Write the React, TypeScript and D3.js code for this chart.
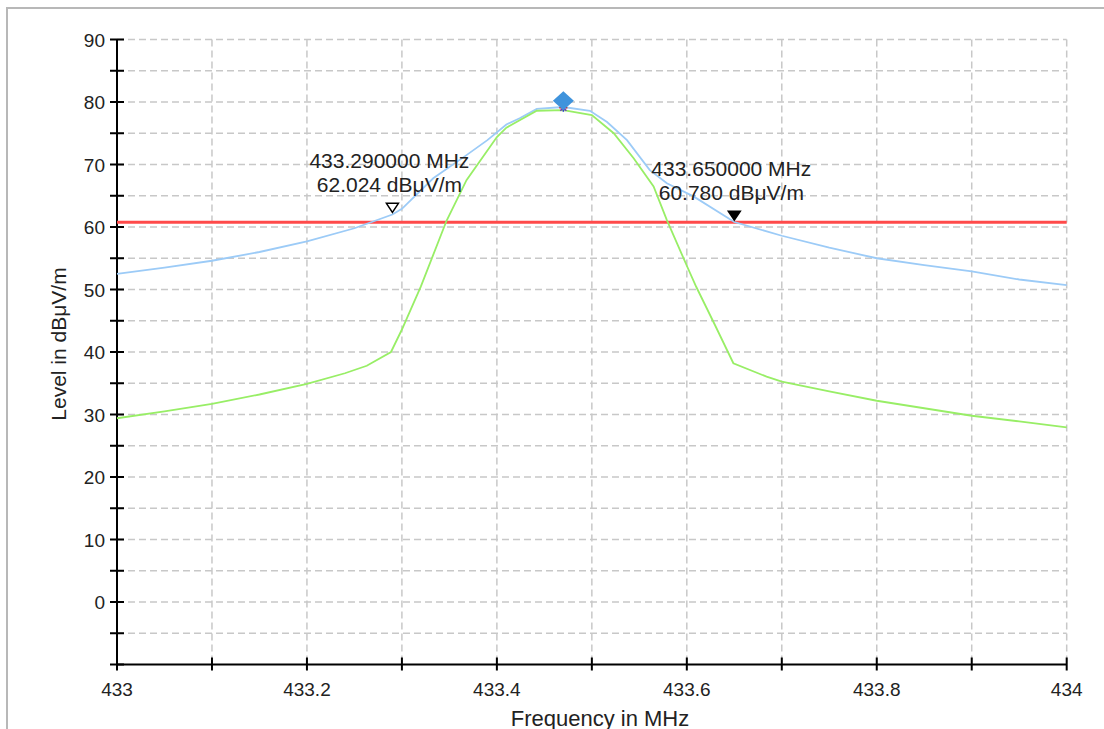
import React from "react";
import * as d3 from "d3";

// ---- data ----
const blueFreq = [433.0, 433.05, 433.1, 433.15, 433.2, 433.25, 433.29, 433.3, 433.333, 433.368, 433.39, 433.41, 433.424, 433.442, 433.47, 433.498, 433.516, 433.537, 433.561, 433.579, 433.607, 433.65, 433.7, 433.75, 433.8, 433.85, 433.9, 433.95, 434.0];
const blueLevel = [52.5, 53.5, 54.6, 56.0, 57.7, 59.8, 62.0, 62.9, 67.8, 71.5, 73.9, 76.4, 77.4, 78.9, 79.2, 78.6, 76.8, 73.9, 69.1, 67.0, 64.9, 60.8, 58.6, 56.7, 55.0, 53.9, 52.9, 51.6, 50.7];

const greenFreq = [433.0, 433.05, 433.1, 433.15, 433.2, 433.24, 433.263, 433.2885, 433.3, 433.32, 433.347, 433.368, 433.4, 433.41, 433.442, 433.47, 433.5, 433.523, 433.544, 433.565, 433.579, 433.6, 433.61, 433.63, 433.649, 433.684, 433.7, 433.75, 433.8, 433.85, 433.9, 433.95, 434.0];
const greenLevel = [29.4, 30.5, 31.7, 33.2, 34.9, 36.6, 37.8, 40.0, 43.6, 50.5, 61.0, 67.5, 74.4, 75.9, 78.6, 78.7, 77.9, 75.0, 71.0, 66.5, 61.1, 53.8, 50.4, 44.2, 38.2, 36.05, 35.25, 33.7, 32.2, 31.0, 29.8, 28.9, 27.95];

const limitLevel = 60.78;

const markerFreq = [433.29, 433.65];
const markerLevel = [62.024, 60.78];
const markerFilled = [false, true];

const peakFreq = 433.47;
const peakLevel = 80.2;

const xTicks = [433, 433.1, 433.2, 433.3, 433.4, 433.5, 433.6, 433.7, 433.8, 433.9, 434];
const xTickLabels = ["433", "", "433.2", "", "433.4", "", "433.6", "", "433.8", "", "434"];
const yTicks = [-10, -5, 0, 5, 10, 15, 20, 25, 30, 35, 40, 45, 50, 55, 60, 65, 70, 75, 80, 85, 90];
const yLabelValues = [0, 10, 20, 30, 40, 50, 60, 70, 80, 90];

export default function App() {
  const x = d3.scaleLinear().domain([433, 434]).range([117, 1066.7]);
  const y = d3.scaleLinear().domain([-10, 90]).range([664.5, 39.5]);
  const line = d3.line<[number, number]>().x(d => x(d[0])).y(d => y(d[1]));
  const blue = line(blueFreq.map((f, i) => [f, blueLevel[i]]));
  const green = line(greenFreq.map((f, i) => [f, greenLevel[i]]));
  const font = "Arial, 'Liberation Sans', sans-serif";
  const fs = 19;
  const fsLabel = 21;
  const px = x(peakFreq), py = y(peakLevel);

  return (
    <svg width={1104} height={729} style={{ position: "absolute", left: 0, top: 0, background: "#fff" }} fontFamily={font}>
      <rect x={7} y={8} width={1200} height={800} fill="#fff" stroke="#b8b8b8" strokeWidth={2} />
      {/* grid */}
      {yTicks.filter(v => v > -10).map(v => (
        <line key={"gy" + v} x1={x(433)} x2={x(434)} y1={y(v)} y2={y(v)} stroke="#c8c8c8" strokeWidth={1.5} strokeDasharray="7,4" />
      ))}
      {xTicks.filter(v => v > 433).map(v => (
        <line key={"gx" + v} x1={x(v)} x2={x(v)} y1={y(90)} y2={y(-10)} stroke="#c8c8c8" strokeWidth={1.5} strokeDasharray="7,4" />
      ))}
      {/* axes */}
      <line x1={x(433)} x2={x(433)} y1={y(90)} y2={y(-10) + 1} stroke="#000" strokeWidth={2} />
      <line x1={x(433)} x2={x(434)} y1={y(-10)} y2={y(-10)} stroke="#000" strokeWidth={2} />
      {yTicks.map(v => (
        <line key={"ty" + v} x1={x(433) - 7} x2={x(433) + 7} y1={y(v)} y2={y(v)} stroke="#000" strokeWidth={2} />
      ))}
      {xTicks.map(v => (
        <line key={"tx" + v} x1={x(v)} x2={x(v)} y1={y(-10) - 7} y2={y(-10) + 6} stroke="#000" strokeWidth={2} />
      ))}
      {yLabelValues.map(v => (
        <text key={"ly" + v} x={105} y={y(v) + 7} textAnchor="end" fontSize={fs} fill="#222">{v}</text>
      ))}
      {xTicks.map((v, i) => xTickLabels[i] ? (
        <text key={"lx" + v} x={x(v)} y={696} textAnchor="middle" fontSize={fs} fill="#222">{xTickLabels[i]}</text>
      ) : null)}
      <text transform={`translate(66,${(y(90) + y(-10)) / 2 - 8}) rotate(-90)`} textAnchor="middle" fontSize={fsLabel} fill="#222">Level in dBμV/m</text>
      <text x={600} y={726} textAnchor="middle" fontSize={22} fill="#222">Frequency in MHz</text>

      {/* limit line */}
      <line x1={x(433)} x2={x(434)} y1={y(limitLevel)} y2={y(limitLevel)} stroke="#ff4a4a" strokeWidth={3} />
      {/* traces */}
      <path d={blue ?? ""} fill="none" stroke="#9ccbf7" strokeWidth={1.8} />
      <path d={green ?? ""} fill="none" stroke="#98ee66" strokeWidth={1.8} />

      {/* peak markers */}
      <g>
        <line x1={px - 4} x2={px + 4} y1={py + 7} y2={py + 7} stroke="#d02020" strokeWidth={1.5} />
        <line x1={px} x2={px} y1={py + 3} y2={py + 11} stroke="#3030d0" strokeWidth={1.5} />
        <line x1={px - 3} x2={px + 3} y1={py + 4} y2={py + 10} stroke="#7030c0" strokeWidth={1.5} />
        <line x1={px + 3} x2={px - 3} y1={py + 4} y2={py + 10} stroke="#7030c0" strokeWidth={1.5} />
        <path d={`M${px},${py - 9.5}L${px + 10.5},${py}L${px},${py + 9.5}L${px - 10.5},${py}Z`} fill="#3f93dc" />
      </g>

      {/* delta markers */}
      {markerFreq.map((f, i) => {
        const mx = x(f), my = y(markerLevel[i]);
        const tip = my - 2;
        return (
          <g key={"m" + i}>
            <path d={`M${mx - 6},${tip - 9}L${mx + 6},${tip - 9}L${mx},${tip}Z`} fill={markerFilled[i] ? "#000" : "#fff"} stroke="#000" strokeWidth={1.5} />
            <text x={mx - 3} y={my - 46} textAnchor="middle" fontSize={fsLabel} fill="#222">{f.toFixed(6)} MHz</text>
            <text x={mx - 3} y={my - 22} textAnchor="middle" fontSize={fsLabel} fill="#222">{markerLevel[i].toFixed(3)} dBμV/m</text>
          </g>
        );
      })}
    </svg>
  );
}
